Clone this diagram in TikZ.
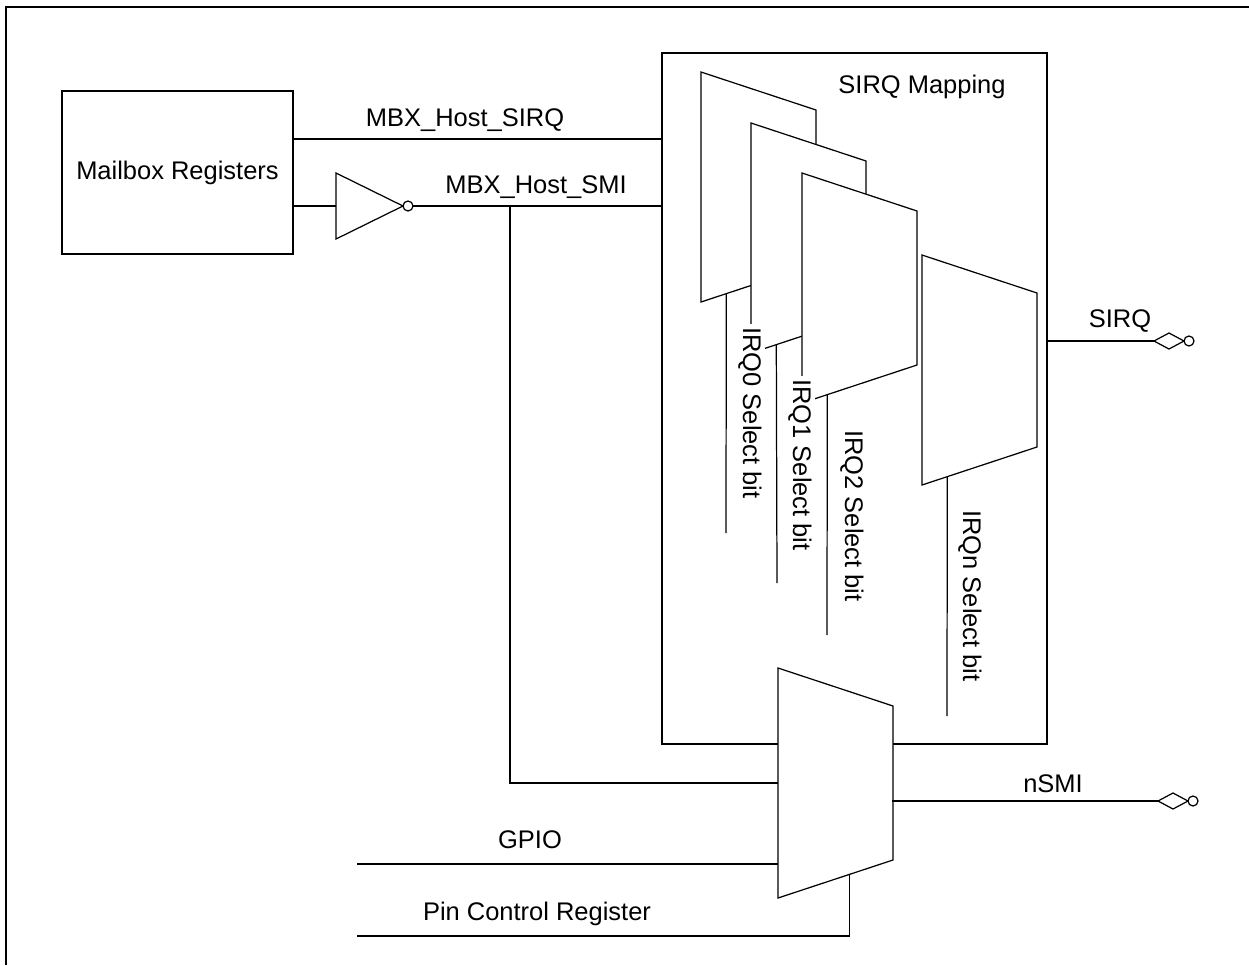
\documentclass[tikz,border=0pt]{standalone}
\usepackage{fontspec}
\setmainfont{Liberation Sans}
\usetikzlibrary{calc}

\tikzset{
  wire/.style={line width=0.7pt},
  muxline/.style={line width=0.7pt, fill=white},
  label/.style={inner sep=0pt, font=\fontsize{14.5}{17}\selectfont},
  sellabel/.style={label, rotate=-90, fill=white, inner sep=2pt}
}

% trapezoid of a mux: name, x and y of top left corner
\newcommand{\muxshape}[3]{%
  \draw[muxline] (#2,#3) coordinate (#1-tl) -- ++(115,38) coordinate (#1-tr)
    -- ++(0,154) coordinate (#1-br) -- ++(-115,38) coordinate (#1-bl) -- cycle;
  \coordinate (#1-sel) at ($(#1-bl)!0.22!(#1-br)$);
}
% pin terminal: name, x and y of left tip
\newcommand{\pinterm}[3]{%
  \draw[wire] (#2,#3) coordinate (#1) -- ++(15,-8) -- ++(15,8) -- ++(-15,8) -- cycle;
  \draw[wire] ($(#1)+(35,0)$) circle (0.1cm);
}

\begin{document}
\begin{tikzpicture}[x=0.02cm, y=-0.02cm]
  \useasboundingbox (0,0) rectangle (1249,965);
  \draw[line width=1.2pt] (6,965) -- (6,7) -- (1249,7);

  \node[draw, wire, label, minimum width=4.62cm, minimum height=3.26cm] (mbox) at (177.5,172.5) {Mailbox Registers};
  \node[draw, wire, minimum width=7.7cm, minimum height=13.82cm, inner sep=0pt] (map) at (854.5,398.5) {};
  \node[label] (maptxt) at (922,87) {SIRQ Mapping};

  % inverter
  \draw[wire] (336,173) -- (403,206) -- (336,239) -- cycle;
  \draw[wire] (408,206) circle (0.1cm);
  \coordinate (inv-in) at (336,206);
  \coordinate (inv-out) at (413,206);
  \coordinate (smi-tap) at (510,206);

  \draw[wire] (mbox.east |- 0,139) -- (map.west |- 0,139);
  \draw[wire] (mbox.east |- inv-in) -- (inv-in);
  \draw[wire] (inv-out) -- (map.west |- inv-out);
  \node[label] (sirqtxt) at (465,120) {MBX\_Host\_SIRQ};
  \node[label] (smitxt) at (536,187) {MBX\_Host\_SMI};

  % irq muxes
  \muxshape{m0}{701}{72}
  \muxshape{m1}{751}{123}
  \muxshape{m2}{802}{173}
  \muxshape{m3}{922}{255}
  \coordinate (s0-end) at (726,533);
  \coordinate (s1-end) at (777,583);
  \coordinate (s2-end) at (827,635);
  \coordinate (s3-end) at (947,716);
  \draw[wire] (m0-sel) -- (s0-end);
  \draw[wire] (m1-sel) -- (s1-end);
  \draw[wire] (m2-sel) -- (s2-end);
  \draw[wire] (m3-sel) -- (s3-end);
  \node[sellabel] (irq0) at (750,413) {IRQ0 Select bit};
  \node[sellabel] (irq1) at (800,465) {IRQ1 Select bit};
  \node[sellabel] (irq2) at (852,516) {IRQ2 Select bit};
  \node[sellabel] (irqn) at (970,596) {IRQn Select bit};

  % sirq out
  \pinterm{sirq}{1154}{341}
  \draw[wire] (map.east |- sirq) -- (sirq);
  \node[label] (sirqout) at (1120,321) {SIRQ};

  % smi mux
  \coordinate (smi-in) at (778,783);
  \draw[wire] (smi-tap) -- (smi-tap |- smi-in) -- (smi-in);
  \coordinate (gpio-in) at (357,864);
  \coordinate (pin-in) at (357,936);
  \draw[wire] (gpio-in) -- (778,864);
  \node[label] (gpiotxt) at (530,840) {GPIO};
  \muxshape{ms}{778}{668}
  \coordinate (ms-pin) at ($(ms-bl)!0.62!(ms-br)$);
  \draw[wire] (pin-in) -- (pin-in -| ms-pin) -- (ms-pin);
  \node[label] (pintxt) at (537,914) {Pin Control Register};

  \pinterm{nsmi}{1158}{801}
  \draw[wire] (892,801) -- (nsmi);
  \node[label] (nsmitxt) at (1053,784) {nSMI};
\end{tikzpicture}
\end{document}
